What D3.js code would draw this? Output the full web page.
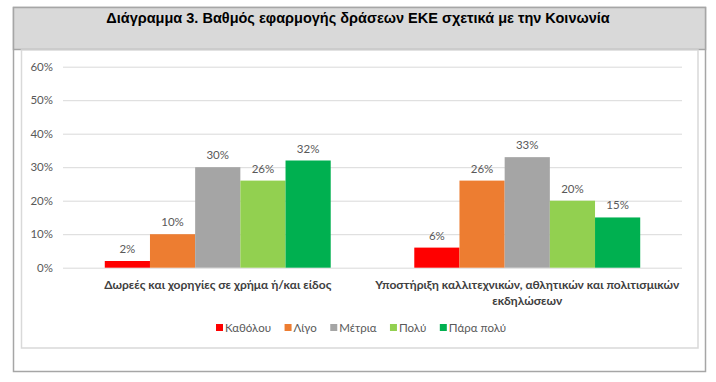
<!DOCTYPE html>
<html>
<head>
  <meta charset="utf-8">
  <title>Διάγραμμα 3</title>
  <script src="https://cdn.jsdelivr.net/npm/d3@7"></script>
  <style>
    body { margin: 0; background: #fff; }
    .tick text { font-family: Lato, "Open Sans", sans-serif; font-size: 11.5px; fill: #595959; }
    .val { font-family: Lato, "Open Sans", sans-serif; font-size: 11.5px; fill: #595959; }
    .cat { font-family: Lato, "Open Sans", sans-serif; font-size: 12px; font-weight: bold; fill: #404040; }
    .leg { font-family: Lato, "Open Sans", sans-serif; font-size: 11.5px; fill: #595959; }
  </style>
</head>
<body>
<script>
  // data
  var title = "Διάγραμμα 3. Βαθμός εφαρμογής δράσεων ΕΚΕ σχετικά με την Κοινωνία";
  var categories = [
    ["Δωρεές και χορηγίες σε χρήμα ή/και είδος"],
    ["Υποστήριξη καλλιτεχνικών, αθλητικών και πολιτισμικών", "εκδηλώσεων"]
  ];
  var seriesNames = ["Καθόλου", "Λίγο", "Μέτρια", "Πολύ", "Πάρα πολύ"];
  var seriesColors = ["#ff0000", "#ed7d31", "#a5a5a5", "#92d050", "#00b050"];
  var values = [
    [2, 10, 30, 26, 32],
    [6, 26, 33, 20, 15]
  ];
  var yTicks = [0, 10, 20, 30, 40, 50, 60];

  var width = 716, height = 382;
  var svg = d3.select("body").append("svg")
    .attr("width", width)
    .attr("height", height);

  // outer frame
  svg.append("rect")
    .attr("x", 13.5).attr("y", 7.5)
    .attr("width", 692).attr("height", 364)
    .attr("fill", "#fff")
    .attr("stroke", "#a6a6a6").attr("stroke-width", 1.5);

  // header
  svg.append("rect")
    .attr("x", 13.5).attr("y", 7.5)
    .attr("width", 692).attr("height", 42)
    .attr("fill", "#d9d9d9")
    .attr("stroke", "#a6a6a6").attr("stroke-width", 1.5);

  svg.append("text")
    .attr("x", 358).attr("y", 23)
    .attr("text-anchor", "middle")
    .style("font-family", "'Liberation Sans', Arial, sans-serif")
    .style("font-weight", "bold")
    .style("font-size", "14.5px")
    .style("fill", "#000")
    .text(title);

  // inner chart area border
  svg.append("rect")
    .attr("x", 21.5).attr("y", 50)
    .attr("width", 676.5).attr("height", 298)
    .attr("fill", "#fff")
    .attr("stroke", "#d9d9d9").attr("stroke-width", 1.5);

  var plotL = 63, plotR = 682, plotT = 66.7, plotB = 267.7;

  var x0 = d3.scaleBand()
    .domain(d3.range(categories.length))
    .range([plotL, plotR])
    .paddingInner(0.27)
    .paddingOuter(0.135);

  var x1 = d3.scaleBand()
    .domain(d3.range(seriesNames.length))
    .range([0, x0.bandwidth()]);

  var y = d3.scaleLinear()
    .domain([0, 60])
    .range([plotB, plotT]);

  // grid + y axis
  var yAxis = d3.axisLeft(y)
    .tickValues(yTicks)
    .tickSize(-(plotR - plotL))
    .tickPadding(10)
    .tickFormat(function(d) { return d + "%"; });

  var ga = svg.append("g")
    .attr("transform", "translate(" + plotL + ",0)")
    .call(yAxis);
  ga.select(".domain").remove();
  ga.selectAll(".tick line").attr("stroke", "#d9d9d9");

  // bars
  var groups = svg.selectAll(".grp")
    .data(values)
    .enter().append("g")
    .attr("class", "grp")
    .attr("transform", function(d, i) { return "translate(" + x0(i) + ",0)"; });

  groups.selectAll("rect")
    .data(function(d) { return d; })
    .enter().append("rect")
    .attr("x", function(d, i) { return x1(i); })
    .attr("y", function(d) { return y(d); })
    .attr("width", x1.bandwidth())
    .attr("height", function(d) { return plotB - y(d); })
    .attr("fill", function(d, i) { return seriesColors[i]; });

  groups.selectAll(".val")
    .data(function(d) { return d; })
    .enter().append("text")
    .attr("class", "val")
    .attr("x", function(d, i) { return x1(i) + x1.bandwidth() / 2; })
    .attr("y", function(d) { return y(d) - 8; })
    .attr("text-anchor", "middle")
    .text(function(d) { return d + "%"; });

  // category labels
  categories.forEach(function(lines, i) {
    var t = svg.append("text")
      .attr("class", "cat")
      .attr("text-anchor", "middle");
    lines.forEach(function(l, j) {
      t.append("tspan")
        .attr("x", x0(i) + x0.bandwidth() / 2)
        .attr("y", 289 + j * 16)
        .text(l);
    });
  });

  // legend
  var leg = svg.append("g").attr("transform", "translate(216,328)");
  var lx = 0;
  seriesNames.forEach(function(n, i) {
    leg.append("rect")
      .attr("x", lx).attr("y", -4)
      .attr("width", 7).attr("height", 7)
      .attr("fill", seriesColors[i]);
    var t = leg.append("text")
      .attr("class", "leg")
      .attr("x", lx + 9).attr("y", 4)
      .text(n);
    lx += 9 + t.node().getComputedTextLength() + 13.5;
  });
</script>
</body>
</html>
